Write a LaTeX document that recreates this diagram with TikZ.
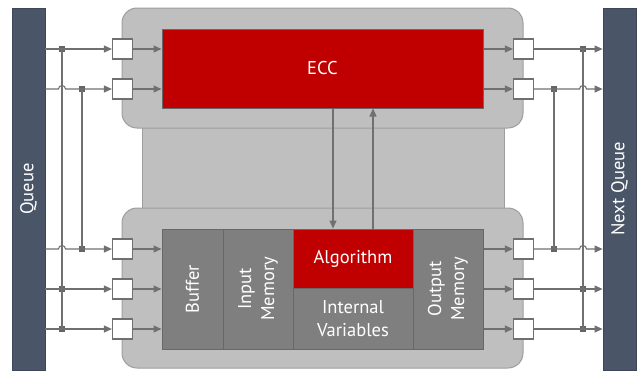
\documentclass[tikz,border=0pt]{standalone}
\usepackage{fontspec}
\setmainfont{PT Sans}
\usetikzlibrary{arrows.meta,calc}
\definecolor{slate}{RGB}{74,85,104}
\definecolor{slateedge}{RGB}{62,71,87}
\definecolor{shellgray}{RGB}{191,191,191}
\definecolor{shelledge}{RGB}{158,158,158}
\definecolor{blkgray}{RGB}{127,127,127}
\definecolor{blkedge}{RGB}{104,104,104}
\definecolor{eccred}{RGB}{192,0,0}
\definecolor{wiregray}{RGB}{112,112,112}
\definecolor{jngray}{RGB}{100,100,100}
\begin{document}
\begin{tikzpicture}[x=1pt,y=-1pt,
  >={Triangle[length=8pt,width=7pt]},
  wire/.style={draw=wiregray, line width=1.1pt},
  bar/.style={fill=slate, draw=slateedge, line width=0.8pt, minimum width=33pt, minimum height=362pt, inner sep=0pt},
  shell/.style={fill=shellgray, draw=shelledge, line width=1pt, rounded corners=15pt},
  blk/.style={fill=blkgray, draw=blkedge, line width=1pt, inner sep=0pt},
  txt/.style={text=white, font=\fontsize{18.5}{23}\selectfont, align=center},
  port/.style={fill=white, draw=wiregray, line width=1.2pt, minimum size=20pt, inner sep=0pt},
  jn/.style={fill=jngray, inner sep=0pt, minimum size=6.5pt}
]
    \useasboundingbox (0,0) rectangle (639,372);
    % housings
    \draw[fill=shellgray, draw=shelledge, line width=1pt] (142,120) rectangle (504,216);
    \draw[shell] (122,8) rectangle (523,128);
    \draw[shell] (122,208) rectangle (523,368);

    \node[bar, label={[txt,rotate=90]center:Queue}] (queue) at (28.5,189) {};
    \node[bar, label={[txt,rotate=90]center:Next Queue}] (next) at (619.5,189) {};

    \node[blk, fill=eccred, minimum width=321pt, minimum height=79pt, txt] (ecc) at (322.5,68.5) {ECC};
    \node[blk, minimum width=61pt, minimum height=120pt, label={[txt,rotate=90]center:Buffer}] (buf) at (192.5,289) {};
    \node[blk, minimum width=70pt, minimum height=120pt, label={[txt,rotate=90]center:{Input\\Memory}}] (inmem) at (258,289) {};
    \node[blk, fill=eccred, minimum width=120pt, minimum height=59pt, txt] (algo) at (353,258.5) {Algorithm};
    \node[blk, minimum width=120pt, minimum height=61pt, txt] (intvar) at (353,318.5) {Internal\\Variables};
    \node[blk, minimum width=70pt, minimum height=120pt, label={[txt,rotate=90]center:{Output\\Memory}}] (outmem) at (448,289) {};

    \foreach \i/\y in {1/49,2/89,3/249,4/289,5/329} {
        \node[port] (pl\i) at (122.5,\y) {};
        \node[port] (pr\i) at (523.5,\y) {};
    }
    \foreach \n/\x/\y in {jl1/62/49, jl4/62/289, jl5/62/329, jm2/82/89, jm3/82/249,
                          jr1/583/49, jr4/583/289, jr5/583/329, jq2/554/89, jq3/554/249}
        \node[jn] (\n) at (\x,\y) {};

    % ports to blocks
    \foreach \i in {1,2} {
        \draw[wire,->] (pl\i) -- (ecc.west|-pl\i);
        \draw[wire,->] (ecc.east|-pr\i) -- (pr\i);
    }
    \foreach \i in {3,4,5} {
        \draw[wire,->] (pl\i) -- (buf.west|-pl\i);
        \draw[wire,->] (outmem.east|-pr\i) -- (pr\i);
    }

    % left bus
    \draw[wire] (jl1.center) -- (jl5.center);
    \draw[wire] (jm2.center) -- (jm3.center);
    \foreach \i in {1,4,5}
        \draw[wire,->] (queue.east|-pl\i) -- (pl\i);
    \foreach \i in {2,3}
        \draw[wire,->] (queue.east|-pl\i) -- ($(jl1|-pl\i)+(-3.5,0)$)
            arc[start angle=180, end angle=0, radius=3.5pt] -- (pl\i);

    % right bus
    \draw[wire] (jr1.center) -- (jr5.center);
    \draw[wire] (jq2.center) -- (jq3.center);
    \foreach \i in {1,4,5}
        \draw[wire,->] (pr\i) -- (next.west|-pr\i);
    \foreach \i in {2,3}
        \draw[wire,->] (pr\i) -- ($(jr1|-pr\i)+(-3.5,0)$)
            arc[start angle=180, end angle=0, radius=3.5pt] -- (next.west|-pr\i);

    % ECC <-> Algorithm
    \coordinate (dn) at ($(algo.north)+(-20,0)$);
    \coordinate (up) at ($(algo.north)+(20,0)$);
    \draw[wire,->] (dn|-ecc.south) -- (dn);
    \draw[wire,->] (up) -- (up|-ecc.south);
\end{tikzpicture}
\end{document}
